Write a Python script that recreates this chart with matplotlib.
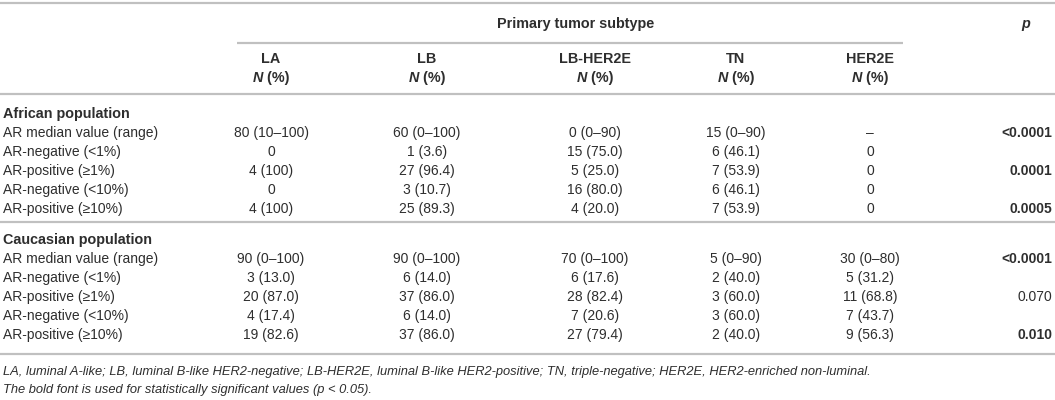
import matplotlib
matplotlib.use("Agg")
import matplotlib.pyplot as plt

plt.rcParams['font.family'] = ['Liberation Sans', 'DejaVu Sans']

# ---- table content
subtypes = ["LA", "LB", "LB-HER2E", "TN", "HER2E"]
row_labels = ["AR median value (range)", "AR-negative (<1%)", "AR-positive (\u22651%)",
              "AR-negative (<10%)", "AR-positive (\u226510%)"]

af_la = ["80 (10\u2013100)", "0", "4 (100)", "0", "4 (100)"]
af_lb = ["60 (0\u2013100)", "1 (3.6)", "27 (96.4)", "3 (10.7)", "25 (89.3)"]
af_lbh = ["0 (0\u201390)", "15 (75.0)", "5 (25.0)", "16 (80.0)", "4 (20.0)"]
af_tn = ["15 (0\u201390)", "6 (46.1)", "7 (53.9)", "6 (46.1)", "7 (53.9)"]
af_her2 = ["\u2013", "0", "0", "0", "0"]
af_p = ["<0.0001", "", "0.0001", "", "0.0005"]
af_p_bold = [True, False, True, False, True]

ca_la = ["90 (0\u2013100)", "3 (13.0)", "20 (87.0)", "4 (17.4)", "19 (82.6)"]
ca_lb = ["90 (0\u2013100)", "6 (14.0)", "37 (86.0)", "6 (14.0)", "37 (86.0)"]
ca_lbh = ["70 (0\u2013100)", "6 (17.6)", "28 (82.4)", "7 (20.6)", "27 (79.4)"]
ca_tn = ["5 (0\u201390)", "2 (40.0)", "3 (60.0)", "3 (60.0)", "2 (40.0)"]
ca_her2 = ["30 (0\u201380)", "5 (31.2)", "11 (68.8)", "7 (43.7)", "9 (56.3)"]
ca_p = ["<0.0001", "", "0.070", "", "0.010"]
ca_p_bold = [True, False, False, False, True]

footnotes = ["LA, luminal A-like; LB, luminal B-like HER2-negative; LB-HER2E, luminal B-like "
             "HER2-positive; TN, triple-negative; HER2E, HER2-enriched non-luminal.",
             "The bold font is used for statistically significant values (p < 0.05)."]

# ---- layout (pixels)
W, H = 1055, 400
txt = "#2e2e2e"
rule = "#c0c0c0"
fs = 10
fsb = 10.4
col_x = [271, 427, 595, 736, 870]
p_x = 1052

fig = plt.figure(figsize=(W / 100, H / 100), dpi=100)
ax = fig.add_axes([0, 0, 1, 1])
ax.set_xlim(0, W)
ax.set_ylim(H, 0)
ax.axis("off")
r = fig.canvas.get_renderer()

# rules
ax.hlines([3, 94, 222, 354], 0, W, color=rule, lw=1.6)
ax.hlines(43, 237, 903, color=rule, lw=1.6)

# header
ax.text(576, 24, "Primary tumor subtype", ha="center", va="center",
        fontsize=fsb, fontweight="bold", color=txt)
ax.text(1026, 24, "p", ha="center", va="center", fontsize=fsb,
        fontweight="bold", fontstyle="italic", color=txt)
for x, name in zip(col_x, subtypes):
    ax.text(x, 59, name, ha="center", va="center", fontsize=fsb,
            fontweight="bold", color=txt)
    a = ax.text(0, 78, "N", ha="left", va="center", fontsize=fsb,
                fontweight="bold", fontstyle="italic", color=txt)
    b = ax.text(0, 78, " (%)", ha="left", va="center", fontsize=fsb,
                fontweight="bold", color=txt)
    wa = a.get_window_extent(r).width
    wb = b.get_window_extent(r).width
    a.set_x(x - (wa + wb) / 2)
    b.set_x(x - (wa + wb) / 2 + wa)

# body
sections = [
    ("African population", 114, [af_la, af_lb, af_lbh, af_tn, af_her2], af_p, af_p_bold),
    ("Caucasian population", 240, [ca_la, ca_lb, ca_lbh, ca_tn, ca_her2], ca_p, ca_p_bold),
]
for title, y0, cols, pv, pb in sections:
    ax.text(3, y0, title, ha="left", va="center", fontsize=fsb,
            fontweight="bold", color=txt)
    for i, lab in enumerate(row_labels):
        y = y0 + 19 + 19 * i
        ax.text(3, y, lab, ha="left", va="center", fontsize=fs, color=txt)
        for x, col in zip(col_x, cols):
            ax.text(x, y, col[i], ha="center", va="center", fontsize=fs, color=txt)
        if pv[i]:
            ax.text(p_x, y, pv[i], ha="right", va="center", fontsize=fs,
                    fontweight="bold" if pb[i] else "normal", color=txt)

for k, note in enumerate(footnotes):
    ax.text(3, 372 + 18 * k, note, ha="left", va="center", fontsize=9.3,
            fontstyle="italic", color=txt)

fig.savefig("out.png", dpi=100)
